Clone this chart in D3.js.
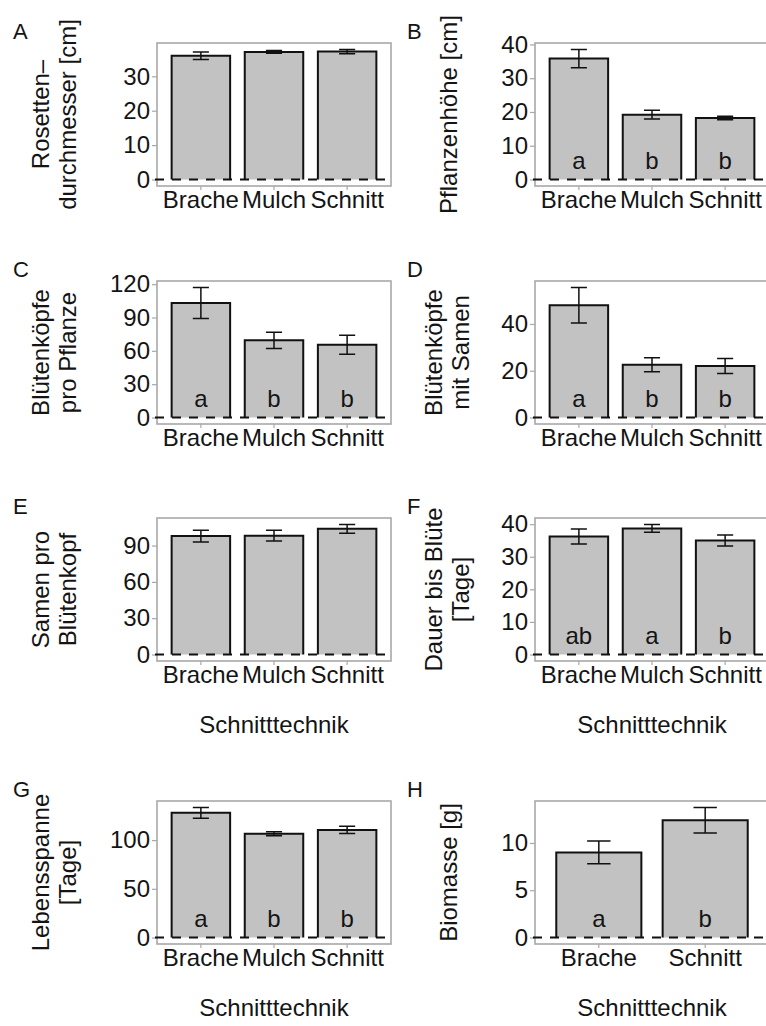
<!DOCTYPE html>
<html>
<head>
<meta charset="utf-8">
<script src="https://cdn.jsdelivr.net/npm/d3@7"></script>
<style>
  body { margin: 0; background: #fff; }
  svg { display: block; }
  text { font-family: "Liberation Sans", Arial, sans-serif; fill: #141414; }
</style>
</head>
<body>
<svg id="chart" width="766" height="1026"></svg>
<script>
// Treatments and per-panel data (means, standard errors, significance letters)
const panelIds = ["A", "B", "C", "D", "E", "F", "G", "H"];
const treatments = ["Brache", "Mulch", "Schnitt"];
const treatmentsBiomass = ["Brache", "Schnitt"];

const yTitles = [
  ["Rosetten–", "durchmesser [cm]"],
  ["Pflanzenhöhe [cm]"],
  ["Blütenköpfe", "pro Pflanze"],
  ["Blütenköpfe", "mit Samen"],
  ["Samen pro", "Blütenkopf"],
  ["Dauer bis Blüte", "[Tage]"],
  ["Lebensspanne", "[Tage]"],
  ["Biomasse [g]"]
];

const meanA = [36.0, 37.1, 37.2];   const seA = [1.1, 0.4, 0.6];
const meanB = [35.8, 19.2, 18.2];   const seB = [2.7, 1.3, 0.5];
const meanC = [103, 69.5, 65.5];    const seC = [14, 7.3, 8.5];
const meanD = [48, 22.6, 22];       const seD = [7.6, 3.0, 3.2];
const meanE = [97.8, 98.2, 103.8];  const seE = [4.8, 4.4, 3.6];
const meanF = [36.2, 38.7, 35.0];   const seF = [2.3, 1.2, 1.7];
const meanG = [128, 106.5, 110.5];  const seG = [5.5, 2.0, 3.7];
const meanH = [9.0, 12.4];          const seH = [1.2, 1.35];

const lettersA = [];
const lettersB = ["a", "b", "b"];
const lettersC = ["a", "b", "b"];
const lettersD = ["a", "b", "b"];
const lettersE = [];
const lettersF = ["ab", "a", "b"];
const lettersG = ["a", "b", "b"];
const lettersH = ["a", "b"];

const ticksA = [0, 10, 20, 30];
const ticksB = [0, 10, 20, 30, 40];
const ticksC = [0, 30, 60, 90, 120];
const ticksD = [0, 20, 40];
const ticksE = [0, 30, 60, 90];
const ticksF = [0, 10, 20, 30, 40];
const ticksG = [0, 50, 100];
const ticksH = [0, 5, 10];

const xTitle = "Schnitttechnik";

const panels = [
  { cats: treatments, mean: meanA, se: seA, letters: lettersA, ticks: ticksA },
  { cats: treatments, mean: meanB, se: seB, letters: lettersB, ticks: ticksB },
  { cats: treatments, mean: meanC, se: seC, letters: lettersC, ticks: ticksC },
  { cats: treatments, mean: meanD, se: seD, letters: lettersD, ticks: ticksD },
  { cats: treatments, mean: meanE, se: seE, letters: lettersE, ticks: ticksE },
  { cats: treatments, mean: meanF, se: seF, letters: lettersF, ticks: ticksF },
  { cats: treatments, mean: meanG, se: seG, letters: lettersG, ticks: ticksG },
  { cats: treatmentsBiomass, mean: meanH, se: seH, letters: lettersH, ticks: ticksH }
].map((p, i) => ({ ...p, id: panelIds[i], title: yTitles[i] }));

// Layout of the 2 x 4 grid
const colLeft = [157, 535];
const panelW = 234;
const rowTop = [43, 281, 518, 801];
const panelH = 143;
const titleX = { two: [[40, 67], [433, 460]], one: [54, 448] };
const labelX = [13, 407];

const barFill = "#c2c2c2";
const borderCol = "#a8a8a8";
const inkCol = "#141414";
const fontSize = 24;
const fontFamily = "Liberation Sans, Arial, sans-serif";

const svg = d3.select("#chart");
svg.append("rect").attr("width", 766).attr("height", 1026).attr("fill", "#fff");

panels.forEach((p, i) => {
  const col = i % 2, row = Math.floor(i / 2);
  const x0 = colLeft[col], y0 = rowTop[row];
  const g = svg.append("g").attr("transform", `translate(${x0},${y0})`);

  const top = d3.max(p.mean.map((m, k) => m + p.se[k]));
  const y = d3.scaleLinear().domain([-0.05 * top, 1.05 * top]).range([panelH, 0]);
  const x = d3.scaleBand().domain(p.cats).range([0, panelW]).paddingInner(0.2).paddingOuter(0.2);
  const step = x.step();
  const capW = 0.22 * step;

  // panel frame
  g.append("rect").attr("x", 0).attr("y", 0).attr("width", panelW).attr("height", panelH)
    .attr("fill", "#fff").attr("stroke", borderCol).attr("stroke-width", 1.6);

  // y axis
  const yAxis = d3.axisLeft(y).tickValues(p.ticks).tickSize(5).tickPadding(2);
  const ya = g.append("g").call(yAxis);
  ya.select(".domain").remove();
  ya.selectAll("line").attr("stroke", borderCol).attr("stroke-width", 1.2);
  ya.selectAll("text").attr("font-size", fontSize).attr("fill", inkCol)
    .attr("font-family", fontFamily);

  // x axis
  const xAxis = d3.axisBottom(x).tickSize(4).tickPadding(1);
  const xa = g.append("g").attr("transform", `translate(0,${panelH})`).call(xAxis);
  xa.select(".domain").remove();
  xa.selectAll("line").attr("stroke", borderCol).attr("stroke-width", 1.2);
  xa.selectAll("text").attr("font-size", fontSize).attr("fill", inkCol)
    .attr("font-family", fontFamily);

  const data = p.cats.map((c, k) => ({ c, m: p.mean[k], s: p.se[k], l: p.letters[k] }));

  // bars: fill plus three-sided outline (baseline carries the dashed zero line)
  g.selectAll(".bar").data(data).join("rect")
    .attr("x", d => x(d.c)).attr("width", x.bandwidth())
    .attr("y", d => y(d.m)).attr("height", d => y(0) - y(d.m))
    .attr("fill", barFill);
  g.selectAll(".barline").data(data).join("path")
    .attr("d", d => `M${x(d.c)},${y(0)}V${y(d.m)}H${x(d.c) + x.bandwidth()}V${y(0)}`)
    .attr("fill", "none").attr("stroke", "#111").attr("stroke-width", 2);

  // dashed zero reference line
  g.append("line").attr("x1", -2).attr("x2", panelW).attr("y1", y(0)).attr("y2", y(0))
    .attr("stroke", "#111").attr("stroke-width", 2).attr("stroke-dasharray", "9,8");

  // error bars (mean ± SE)
  const eb = g.selectAll(".eb").data(data).join("g")
    .attr("transform", d => `translate(${x(d.c) + x.bandwidth() / 2},0)`);
  eb.append("path")
    .attr("d", d => `M${-capW / 2},${y(d.m + d.s)}H${capW / 2}M0,${y(d.m + d.s)}V${y(d.m - d.s)}M${-capW / 2},${y(d.m - d.s)}H${capW / 2}`)
    .attr("fill", "none").attr("stroke", "#111").attr("stroke-width", 1.5);

  // significance letters
  g.selectAll(".sig").data(data.filter(d => d.l)).join("text")
    .attr("x", d => x(d.c) + x.bandwidth() / 2).attr("y", y(0) - 11)
    .attr("text-anchor", "middle").attr("font-size", fontSize).text(d => d.l);

  // panel label
  svg.append("text").attr("x", labelX[col]).attr("y", y0 - 4)
    .attr("font-size", 22).text(p.id);

  // y axis title (rotated, one or two lines)
  const cy = y0 + panelH / 2;
  const xs = p.title.length === 2 ? titleX.two[col] : [titleX.one[col]];
  p.title.forEach((t, k) => {
    svg.append("text")
      .attr("transform", `translate(${xs[k]},${cy}) rotate(-90)`)
      .attr("text-anchor", "middle").attr("dominant-baseline", "central")
      .attr("font-size", fontSize).text(t);
  });

  // x axis title on the lower two rows
  if (row >= 2) {
    svg.append("text").attr("x", x0 + panelW / 2).attr("y", y0 + panelH + 72)
      .attr("text-anchor", "middle").attr("font-size", fontSize).text(xTitle);
  }
});
</script>
</body>
</html>
